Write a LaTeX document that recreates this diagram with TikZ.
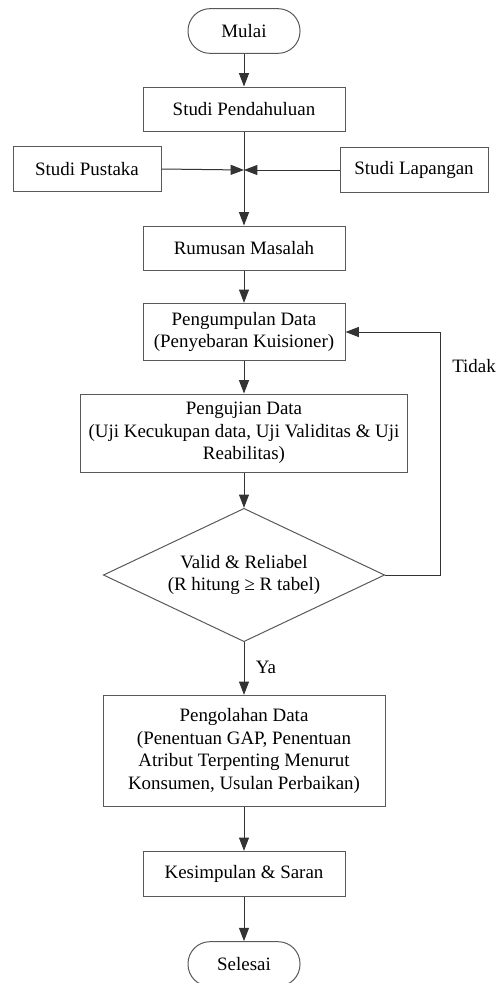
\documentclass[tikz,border=0pt]{standalone}
\usepackage{fontspec}
\setmainfont{Liberation Serif}
\usepackage{tikz}
\usetikzlibrary{shapes.geometric,arrows.meta}

\begin{document}
\begin{tikzpicture}[x=0.75pt,y=-0.75pt,
	kotak/.style={draw=black!65, line width=0.75pt, align=center, inner sep=0pt, font=\fontsize{14.2}{17}\selectfont},
	terminal/.style={kotak, rounded corners=16.5pt, minimum width=84pt, minimum height=33.5pt},
	cek/.style={draw=black!65, line width=0.75pt, diamond, aspect=2.1, inner sep=0pt, align=center, minimum width=211pt, minimum height=100pt, font=\fontsize{14.2}{17}\selectfont},
	panah/.style={draw=black!80, line width=0.75pt, -{Triangle[length=10pt,width=7.5pt]}},
	teks/.style={font=\fontsize{14.2}{17}\selectfont}]

	\useasboundingbox (0,0) rectangle (501,983);

	\node[terminal] (mulai) at (244,31) {Mulai};
	\node[kotak, minimum width=151.5pt, minimum height=33pt] (pendahuluan) at (244,109) {Studi Pendahuluan};
	\node[kotak, minimum width=111pt, minimum height=33.5pt] (pustaka) at (87,169) {Studi Pustaka};
	\node[kotak, minimum width=111pt, minimum height=33.5pt] (lapangan) at (414,170) {Studi Lapangan};
	\coordinate (temu) at (244,170);
	\node[kotak, minimum width=151.5pt, minimum height=33pt] (rumusan) at (244,248) {Rumusan Masalah};
	\node[kotak, minimum width=151.5pt, minimum height=43pt] (kumpul) at (244,332) {Pengumpulan Data\\(Penyebaran Kuisioner)};
	\node[kotak, minimum width=245pt, minimum height=58.5pt] (uji) at (244,433) {Pengujian Data\\(Uji Kecukupan data, Uji Validitas \& Uji\\Reabilitas)};
	\node[cek] (valid) at (244,575) {Valid \& Reliabel\\(R hitung ≥ R tabel)};
	\node[kotak, minimum width=211.5pt, minimum height=83.5pt] (olah) at (244,751) {Pengolahan Data\\(Penentuan GAP, Penentuan\\Atribut Terpenting Menurut\\Konsumen, Usulan Perbaikan)};
	\node[kotak, minimum width=151.5pt, minimum height=34pt] (simpul) at (244,874) {Kesimpulan \& Saran};
	\node[terminal] (selesai) at (244,964) {Selesai};
	\coordinate (balik) at (440,575);

	\node[teks] (tidak) at (474,366) {Tidak};
	\node[teks] (ya) at (266,667) {Ya};

	\draw[panah] (mulai) -- (pendahuluan);
	\draw[panah] (pendahuluan) -- (rumusan);
	\draw[panah] (pustaka.east) -- (temu);
	\draw[panah] (lapangan.west) -- (temu);
	\draw[panah] (rumusan) -- (kumpul);
	\draw[panah] (kumpul) -- (uji);
	\draw[panah] (uji) -- (valid);
	\draw[panah] (valid) -- (olah);
	\draw[panah] (olah) -- (simpul);
	\draw[panah] (simpul) -- (selesai);
	\draw[panah] (valid.east) -- (balik) |- (kumpul.east);

\end{tikzpicture}
\end{document}
